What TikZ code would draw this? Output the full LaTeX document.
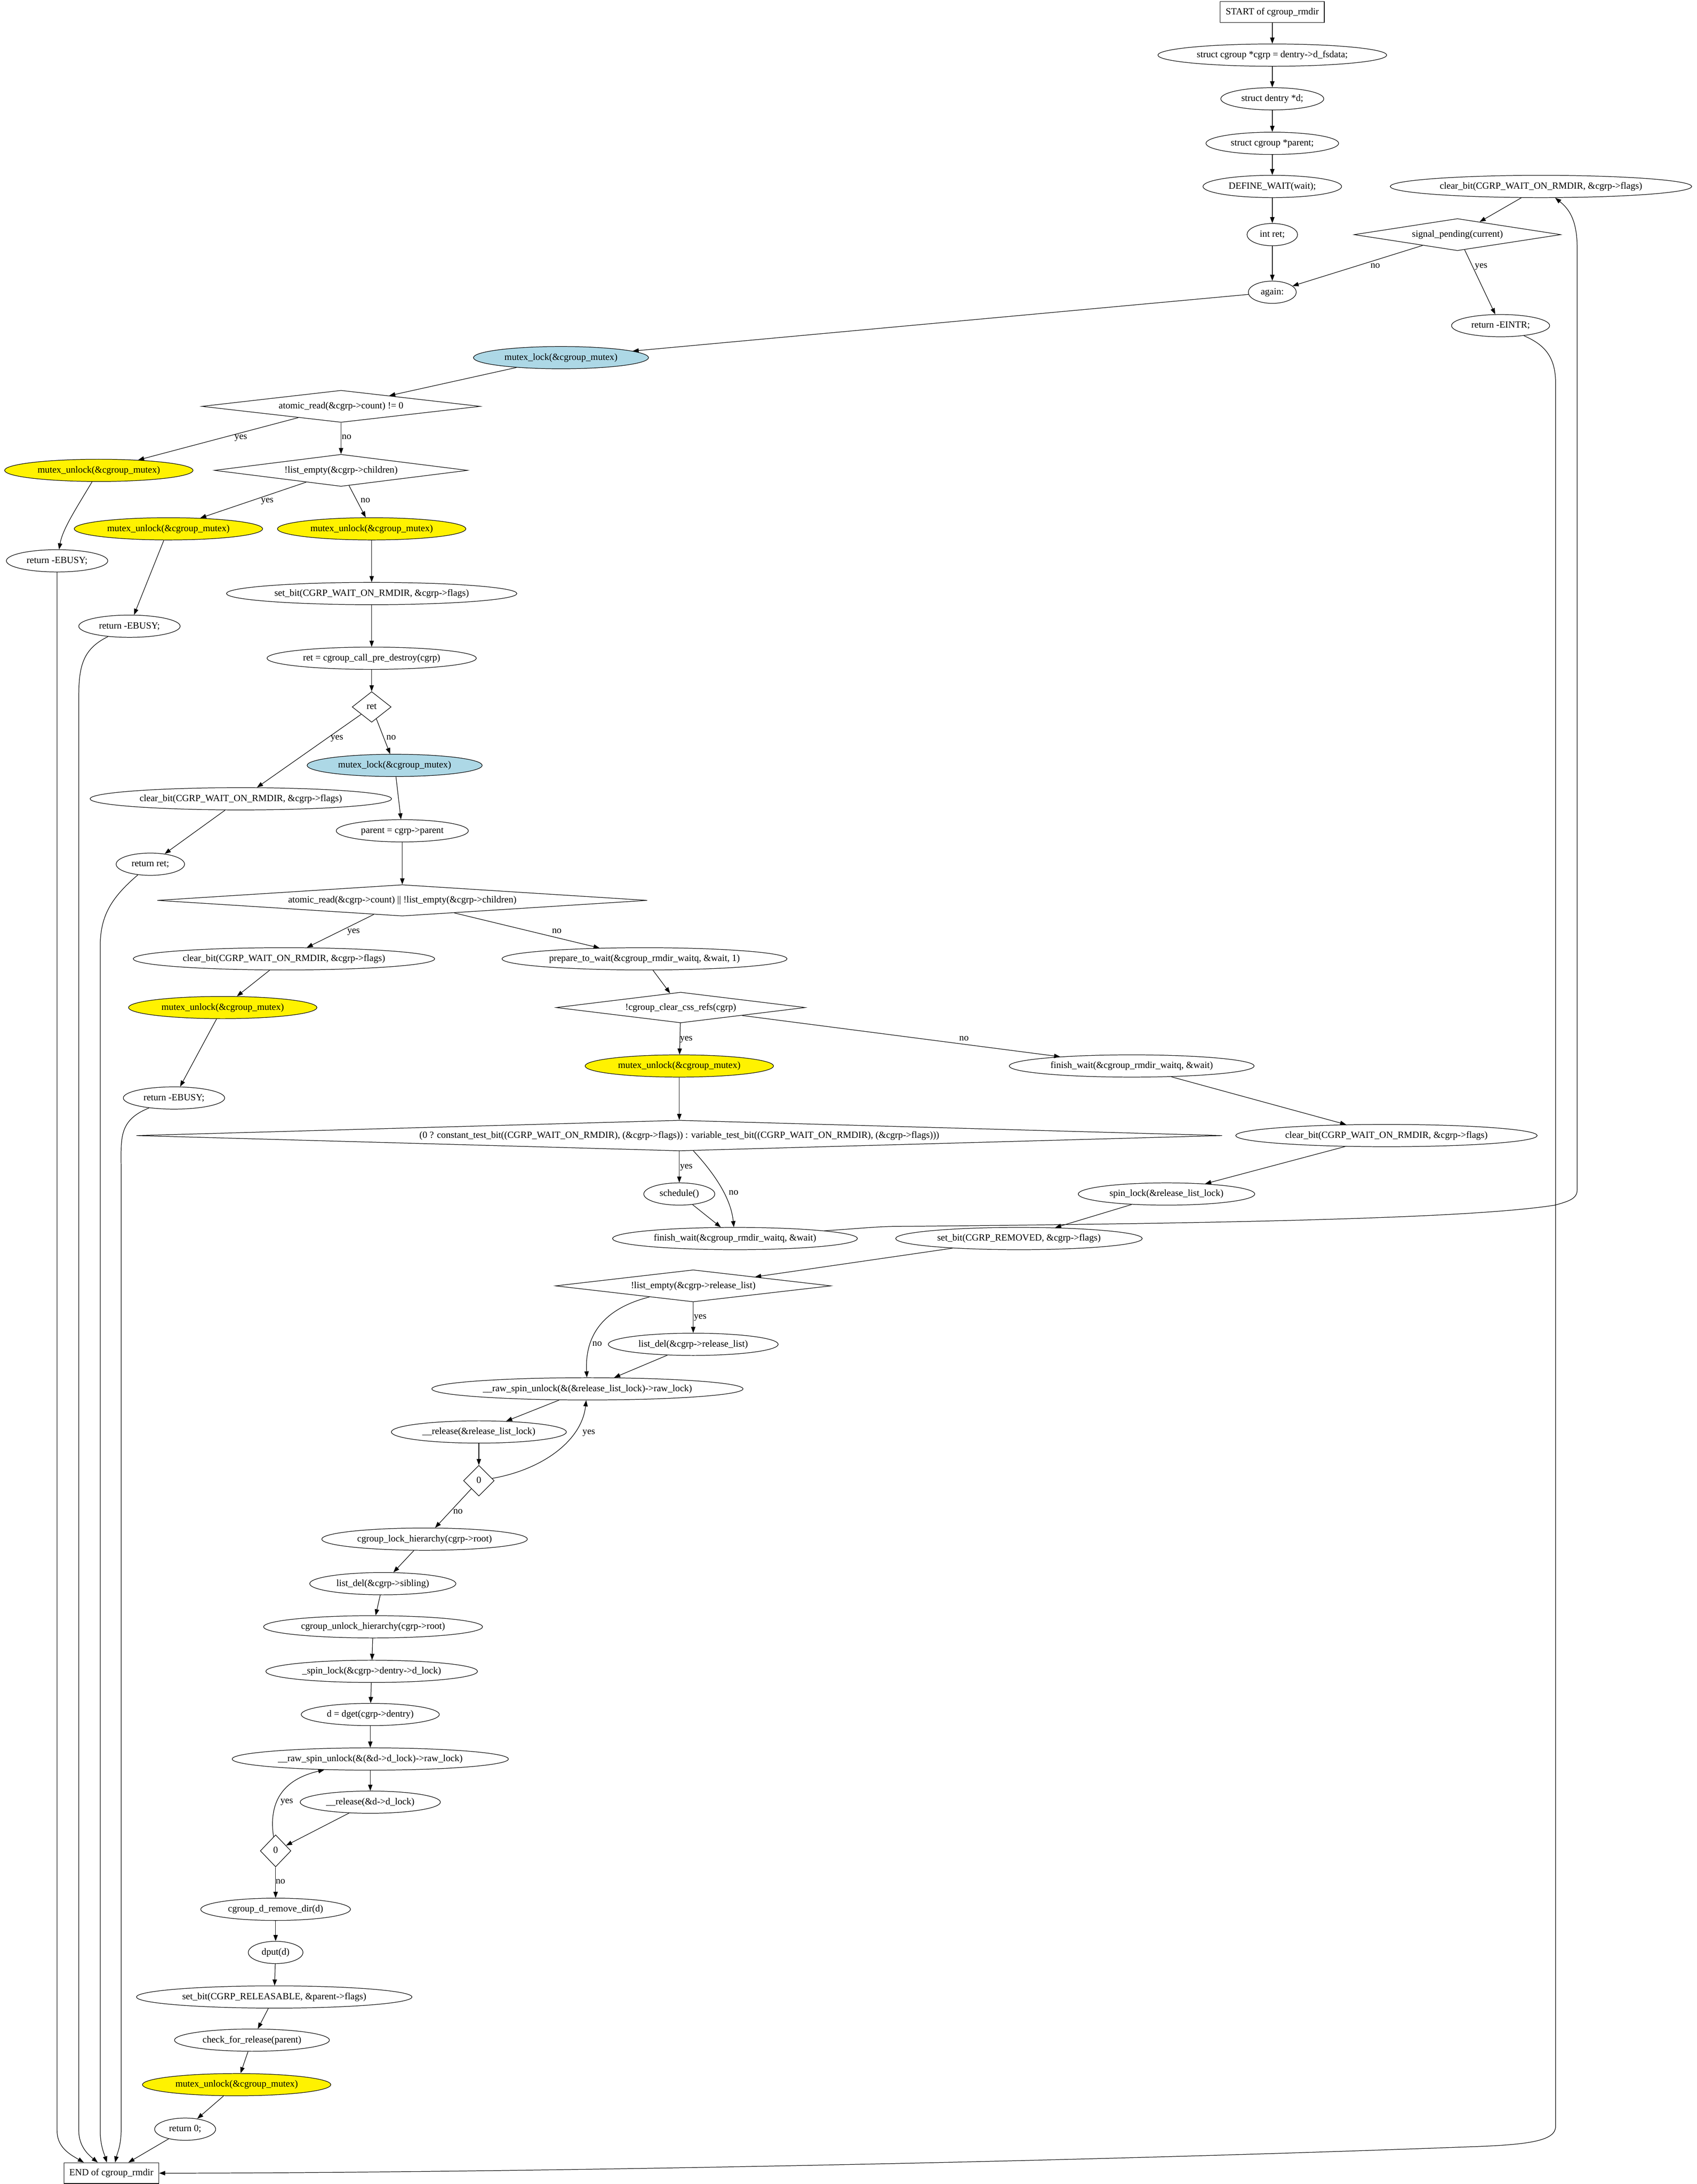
\documentclass[tikz,border=0pt]{standalone}
\usepackage{fontspec}
\setmainfont{Liberation Serif}
\usetikzlibrary{arrows.meta,shapes.geometric,calc}
\definecolor{bleuclair}{RGB}{173,216,230}
\begin{document}
\begin{tikzpicture}[x=2.06pt,y=-2.06pt,line width=0.8pt,
    font=\fontsize{14}{16}\selectfont,
    every node/.style={text height=10pt,text depth=3pt},
    etat/.style={ellipse,draw,inner xsep=8pt,inner ysep=2pt,minimum height=16*2.06pt},
    bord/.style={rectangle,draw,inner xsep=8pt,minimum height=15*2.06pt},
    test/.style n args={3}{diamond,draw,inner sep=1pt,minimum width=#1*2.06pt,minimum height=#2*2.06pt,aspect=#3},
    verrou/.style={etat,fill=bleuclair},
    deverrou/.style={etat,fill=yellow},
    fl/.style={-{Triangle[length=9pt,width=6.5pt]}},
    lab/.style={inner sep=0pt}]
\useasboundingbox (0,0) rectangle (1219.1,1569.4);
% colonne du haut
\node[bord] (debut) at (914,8.7) {START of cgroup\_rmdir};
\node[etat] (cgrp) at (914,39.6) {struct cgroup *cgrp = dentry->d\_fsdata;};
\node[etat] (dent) at (914,71) {struct dentry *d;};
\node[etat] (par) at (914,103) {struct cgroup *parent;};
\node[etat] (dwait) at (914,134) {DEFINE\_WAIT(wait);};
\node[etat] (iret) at (914,168.6) {int ret;};
\node[etat] (again) at (914,210) {again:};
\node[etat] (clrtop) at (1107,134) {clear\_bit(CGRP\_WAIT\_ON\_RMDIR, \&cgrp->flags)};
\node[test={148.5}{23}{6.46}] (sig) at (1047,168.6) {signal\_pending(current)};
\node[etat] (eintr) at (1078,234) {return -EINTR;};
\node[verrou] (lockA) at (403,257) {mutex\_lock(\&cgroup\_mutex)};
\node[test={200}{23}{8.7}] (cnt) at (245,292) {atomic\_read(\&cgrp->count) != 0};
\node[deverrou] (unlkA) at (71,338) {mutex\_unlock(\&cgroup\_mutex)};
\node[test={182}{23}{7.9}] (child) at (245,338) {!list\_empty(\&cgrp->children)};
\node[deverrou] (unlkB) at (121,380) {mutex\_unlock(\&cgroup\_mutex)};
\node[deverrou] (unlkC) at (267,380) {mutex\_unlock(\&cgroup\_mutex)};
\node[etat] (busyA) at (41,403) {return -EBUSY;};
\node[etat] (busyB) at (93,450) {return -EBUSY;};
\node[etat] (setw) at (267,426.5) {set\_bit(CGRP\_WAIT\_ON\_RMDIR, \&cgrp->flags)};
\node[etat] (pre) at (267,473) {ret = cgroup\_call\_pre\_destroy(cgrp)};
\node[test={28}{22}{1.27}] (dret) at (267,508) {ret};
\node[verrou] (lockB) at (283.5,550) {mutex\_lock(\&cgroup\_mutex)};
\node[etat] (clrA) at (173,574) {clear\_bit(CGRP\_WAIT\_ON\_RMDIR, \&cgrp->flags)};
\node[etat] (rret) at (108,621) {return ret;};
\node[etat] (parent) at (289,597) {parent = cgrp->parent};
\node[test={352}{22.5}{15.6}] (big1) at (289,647) {atomic\_read(\&cgrp->count) || !list\_empty(\&cgrp->children)};
\node[etat] (clrB) at (204,689) {clear\_bit(CGRP\_WAIT\_ON\_RMDIR, \&cgrp->flags)};
\node[etat] (prep) at (463,689) {prepare\_to\_wait(\&cgroup\_rmdir\_waitq, \&wait, 1)};
\node[deverrou] (unlkD) at (160,724) {mutex\_unlock(\&cgroup\_mutex)};
\node[test={179}{22}{8.1}] (css) at (489,724) {!cgroup\_clear\_css\_refs(cgrp)};
\node[deverrou] (unlkE) at (488,766) {mutex\_unlock(\&cgroup\_mutex)};
\node[etat] (busyC) at (125,789) {return -EBUSY;};
\node[etat] (finB) at (813,766) {finish\_wait(\&cgroup\_rmdir\_waitq, \&wait)};
\node[test={780}{22}{35.5}] (big2) at (488,816) {(0 ? constant\_test\_bit((CGRP\_WAIT\_ON\_RMDIR), (\&cgrp->flags)) : variable\_test\_bit((CGRP\_WAIT\_ON\_RMDIR), (\&cgrp->flags)))};
\node[etat] (clrC) at (996,816) {clear\_bit(CGRP\_WAIT\_ON\_RMDIR, \&cgrp->flags)};
\node[etat] (sched) at (488,858) {schedule()};
\node[etat] (spin) at (838,858) {spin\_lock(\&release\_list\_lock)};
\node[etat] (finA) at (528,890) {finish\_wait(\&cgroup\_rmdir\_waitq, \&wait)};
\node[etat] (setrm) at (732,890) {set\_bit(CGRP\_REMOVED, \&cgrp->flags)};
\node[test={198}{23}{8.6}] (rel) at (498,924) {!list\_empty(\&cgrp->release\_list)};
\node[etat] (ldel) at (498,966) {list\_del(\&cgrp->release\_list)};
\node[etat] (rawA) at (422,998) {\_\_raw\_spin\_unlock(\&(\&release\_list\_lock)->raw\_lock)};
\node[etat] (relA) at (344,1029) {\_\_release(\&release\_list\_lock)};
\node[test={22}{22}{1}] (zeroA) at (344,1064) {0};
\node[etat] (lhier) at (305,1106) {cgroup\_lock\_hierarchy(cgrp->root)};
\node[etat] (sib) at (275,1138) {list\_del(\&cgrp->sibling)};
\node[etat] (uhier) at (268,1169) {cgroup\_unlock\_hierarchy(cgrp->root)};
\node[etat] (spl) at (267,1201) {\_spin\_lock(\&cgrp->dentry->d\_lock)};
\node[etat] (dget) at (266,1232) {d = dget(cgrp->dentry)};
\node[etat] (rawB) at (266,1264) {\_\_raw\_spin\_unlock(\&(\&d->d\_lock)->raw\_lock)};
\node[etat] (relB) at (266,1295) {\_\_release(\&d->d\_lock)};
\node[test={22}{23}{0.96}] (zeroB) at (198,1330) {0};
\node[etat] (rmd) at (198,1372) {cgroup\_d\_remove\_dir(d)};
\node[etat] (dput) at (198,1403) {dput(d)};
\node[etat] (rbl) at (197,1435) {set\_bit(CGRP\_RELEASABLE, \&parent->flags)};
\node[etat] (chk) at (181,1466) {check\_for\_release(parent)};
\node[deverrou] (unlkF) at (170,1498) {mutex\_unlock(\&cgroup\_mutex)};
\node[etat] (ret0) at (133,1530) {return 0;};
\node[bord] (fin) at (80,1561.6) {END of cgroup\_rmdir};
% fleches droites
\draw[fl] (debut) -- (cgrp); \draw[fl] (cgrp) -- (dent); \draw[fl] (dent) -- (par);
\draw[fl] (par) -- (dwait); \draw[fl] (dwait) -- (iret); \draw[fl] (iret) -- (again);
\draw[fl] (clrtop) -- (sig); \draw[fl] (sig) -- (again); \draw[fl] (sig) -- (eintr);
\draw[fl] (again) -- (lockA); \draw[fl] (lockA) -- (cnt);
\draw[fl] (cnt) -- (unlkA); \draw[fl] (cnt) -- (child);
\draw[fl] (child) -- (unlkB); \draw[fl] (child) -- (unlkC);
\draw[fl] (unlkB) -- (busyB); \draw[fl] (unlkC) -- (setw); \draw[fl] (setw) -- (pre);
\draw[fl] (pre) -- (dret); \draw[fl] (dret) -- (clrA); \draw[fl] (dret) -- (lockB);
\draw[fl] (clrA) -- (rret); \draw[fl] (lockB) -- (parent); \draw[fl] (parent) -- (big1);
\draw[fl] (big1) -- (clrB); \draw[fl] (big1) -- (prep);
\draw[fl] (clrB) -- (unlkD); \draw[fl] (unlkD) -- (busyC);
\draw[fl] (prep) -- (css); \draw[fl] (css) -- (unlkE); \draw[fl] (css) -- (finB);
\draw[fl] (unlkE) -- (big2); \draw[fl] (big2) -- (sched); \draw[fl] (sched) -- (finA);
\draw[fl] (finB) -- (clrC); \draw[fl] (clrC) -- (spin); \draw[fl] (spin) -- (setrm);
\draw[fl] (setrm) -- (rel); \draw[fl] (rel) -- (ldel); \draw[fl] (ldel) -- (rawA);
\draw[fl] (rawA) -- (relA); \draw[fl] (relA) -- (zeroA); \draw[fl] (zeroA) -- (lhier);
\draw[fl] (lhier) -- (sib); \draw[fl] (sib) -- (uhier); \draw[fl] (uhier) -- (spl);
\draw[fl] (spl) -- (dget); \draw[fl] (dget) -- (rawB); \draw[fl] (rawB) -- (relB);
\draw[fl] (relB) -- (zeroB); \draw[fl] (zeroB) -- (rmd); \draw[fl] (rmd) -- (dput);
\draw[fl] (dput) -- (rbl); \draw[fl] (rbl) -- (chk); \draw[fl] (chk) -- (unlkF);
\draw[fl] (unlkF) -- (ret0); \draw[fl] (ret0) -- ($(fin.north west)+(46.5,0)$);
% fleches courbes
\draw[fl] (unlkA) .. controls (55,365) and (45,380) .. (busyA);
\draw[fl] (big2) .. controls (512,842) and (525,860) .. (finA);
\draw[fl] (rel) .. controls (435,940) and (420,958) .. (rawA);
\draw[fl] (zeroA) .. controls (390,1056) and (418,1035) .. (rawA);
\draw[fl] (zeroB) .. controls (193,1296) and (202,1279) .. (rawB);
% boucle de retour
\draw[fl] (finA.5) .. controls (615,883) and (628,881.5) .. (642,881.3) .. controls (900,879) and (1060,875) .. (1117,866) .. controls (1128,863) and (1133,861) .. (1133,855) -- (1133,178) .. controls (1133,158) and (1127,150) .. (clrtop);
% vers la fin
\draw[fl] (busyA) -- (41,1531) .. controls (41,1543) and (50,1548) .. ($(fin.north west)+(14.5,0)$);
\draw[fl] (busyB) .. controls (60,466) and (56.6,478) .. (56.6,500) -- (56.6,1531) .. controls (56.6,1542) and (63,1548) .. ($(fin.north west)+(24.5,0)$);
\draw[fl] (rret) .. controls (80,645) and (72,658) .. (72,680) -- (72,1531) .. controls (72,1542) and (75,1548) .. ($(fin.north west)+(31,0)$);
\draw[fl] (busyC) .. controls (85,805) and (87,818) .. (87,840) -- (87,1531) .. controls (87,1542) and (84,1548) .. ($(fin.north west)+(37,0)$);
\draw[fl] (eintr) .. controls (1108,247) and (1117.5,255) .. (1117.5,275) -- (1117.5,1528) .. controls (1117.5,1538) and (1100,1541) .. (1060,1542.5) .. controls (700,1556) and (300,1561.6) .. (fin);
% etiquettes
\node[lab] (l1) at (988,191) {no};      \node[lab] (l2) at (1064,191) {yes};
\node[lab] (l3) at (173,314) {yes};     \node[lab] (l4) at (249,314) {no};
\node[lab] (l5) at (192,359.5) {yes};   \node[lab] (l6) at (262.5,359.5) {no};
\node[lab] (l7) at (242,530) {yes};     \node[lab] (l8) at (281,530) {no};
\node[lab] (l9) at (254,669) {yes};     \node[lab] (l10) at (400,669) {no};
\node[lab] (l11) at (493,746) {yes};    \node[lab] (l12) at (692.5,746) {no};
\node[lab] (l13) at (493,838) {yes};    \node[lab] (l14) at (527,857) {no};
\node[lab] (l15) at (503,946) {yes};    \node[lab] (l16) at (429,965.5) {no};
\node[lab] (l17) at (423,1029) {yes};   \node[lab] (l18) at (329,1086) {no};
\node[lab] (l19) at (206,1294) {yes};   \node[lab] (l20) at (201.5,1352) {no};
\end{tikzpicture}
\end{document}
